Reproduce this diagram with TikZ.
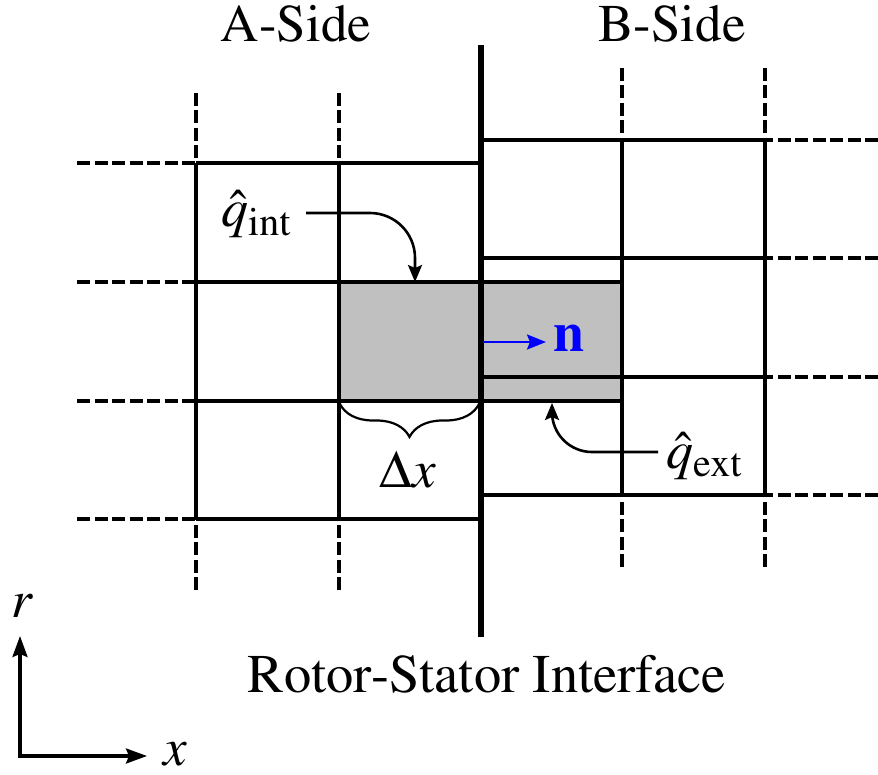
\documentclass[tikz,border=0pt]{standalone}
\usepackage[T1]{fontenc}
\usepackage{mathptmx}
\usetikzlibrary{arrows.meta,decorations.pathreplacing}
\definecolor{cellgray}{HTML}{C0C0C0}
\begin{document}
\begin{tikzpicture}[x=1pt,y=-1pt,
  gridline/.style={line width=3.2pt},
  griddash/.style={line width=3.2pt, dash pattern=on 13pt off 4.5pt},
  lbl/.style={font=\fontsize{53}{60}\selectfont, inner sep=0pt},
  qlbl/.style={font=\fontsize{54}{60}\selectfont, inner sep=0pt},
  conn/.style={line width=2.6pt, -{Stealth[length=17pt,width=14pt,inset=3pt]}},
  axis/.style={line width=3.2pt, {Stealth[length=21pt,width=15pt,inset=3pt]}-{Stealth[length=21pt,width=15pt,inset=3pt]}}]
\useasboundingbox (0,0) rectangle (878,775);

% gray cell
\fill[cellgray] (339,282) rectangle (622,401);

% A-side grid
\foreach \y in {163,282,401,519} {
  \draw[gridline] (196,\y) -- (481,\y);
  \draw[griddash] (77,\y) -- (196,\y);
}
\foreach \x in {196,339} {
  \draw[gridline] (\x,163) -- (\x,519);
  \draw[griddash] (\x,93) -- (\x,163);
  \draw[griddash] (\x,590) -- (\x,519);
}

% B-side grid
\foreach \y in {140,258,377,495} {
  \draw[gridline] (481,\y) -- (765,\y);
  \draw[griddash] (878,\y) -- (765,\y);
}
\foreach \x in {622,765} {
  \draw[gridline] (\x,140) -- (\x,495);
  \draw[griddash] (\x,68) -- (\x,140);
  \draw[griddash] (\x,567) -- (\x,495);
}

% cell outline
\draw[gridline] (339,282) rectangle (622,401);

% interface
\draw[line width=5.8pt] (481,45) -- (481,637);

% titles
\node[lbl, anchor=base] (aside) at (296,42) {A-Side};
\node[lbl, anchor=base] (bside) at (672,42) {B-Side};
\node[lbl, font=\fontsize{54.5}{60}\selectfont, anchor=base] (rsi) at (487,692) {Rotor-Stator Interface};

% normal vector
\coordinate (nstart) at (483,342);
\node[font=\fontsize{56}{60}\selectfont, text=blue, inner sep=0pt, anchor=base west] (nlab) at (553,352) {$\mathbf{n}$};
\draw[line width=2.6pt, blue, -{Stealth[length=19pt,width=15pt,inset=3pt]}, shorten >=7pt] (nstart) -- (nstart -| nlab.west);

% q int
\node[qlbl, anchor=base west] (qint) at (221,227) {$\hat{q}_{\mathrm{int}}$};
\coordinate (qintstart) at (306,213);
\coordinate (qinttip) at (415,282);
\draw[conn, rounded corners=45pt] (qintstart) -| (qinttip);

% q ext
\node[qlbl, anchor=base west] (qext) at (666,468) {$\hat{q}_{\mathrm{ext}}$};
\coordinate (qextstart) at (658,452);
\coordinate (qexttip) at (552,403);
\draw[conn, rounded corners=40pt] (qextstart) -| (qexttip);

% brace and delta x
\draw[line width=2.2pt, decorate, decoration={brace, amplitude=33pt}] (479,404) -- (340,404);
\node[lbl, anchor=base] (dx) at (408,487) {$\Delta x$};

% axes
\coordinate (origin) at (20,756);
\coordinate (rtip) at (20,636);
\coordinate (xtip) at (147,756);
\draw[axis] (rtip) -- (origin) -- (xtip);
\node[lbl, anchor=base] (rl) at (22,617) {$r$};
\node[lbl, anchor=base west] (xl) at (163,765) {$x$};
\end{tikzpicture}
\end{document}
